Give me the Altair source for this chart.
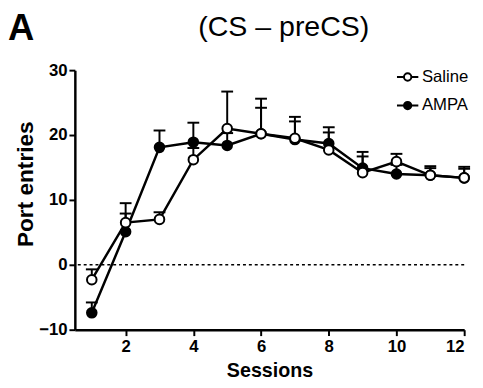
import altair as alt
import pandas as pd

# ---- data ----
sessions = [1, 2, 3, 4, 5, 6, 7, 8, 9, 10, 11, 12]
groups = ["Saline", "AMPA"]
saline_mean = [-2.3, 6.5, 7.0, 16.2, 21.0, 20.2, 19.5, 17.7, 14.2, 15.9, 13.8, 13.4]
saline_upper = [-0.7, 7.9, 8.1, 18.0, 26.7, 25.6, 22.8, 21.2, 17.4, 17.1, 15.2, 15.1]
ampa_mean = [-7.4, 5.1, 18.1, 18.9, 18.4, 20.2, 19.3, 18.7, 14.9, 14.0, 13.8, 13.4]
ampa_upper = [-5.8, 9.5, 20.7, 21.9, 20.3, 24.2, 22.1, 20.4, 16.7, 15.4, 14.9, 14.8]

x_ticks = [2, 4, 6, 8, 10, 12]
y_ticks = [-10, 0, 10, 20, 30]
panel_label = ["A"]
title_text = ["(CS \u2013 preCS)"]
x_title = "Sessions"
y_title = "Port entries"

rows = []
for g, means, uppers in [("AMPA", ampa_mean, ampa_upper), ("Saline", saline_mean, saline_upper)]:
    for s, m, u in zip(sessions, means, uppers):
        rows.append({"session": s, "group": g, "mean": m, "upper": u})
df = pd.DataFrame(rows)

FONT = "Liberation Sans"

x = alt.X(
    "session:Q",
    scale=alt.Scale(domain=[0.5, 12], nice=False, zero=False),
    axis=alt.Axis(values=x_ticks, title=x_title, titleBaseline="alphabetic", titleY=48),
)
y = alt.Y(
    "mean:Q",
    scale=alt.Scale(domain=[-10, 30], nice=False, zero=False),
    axis=alt.Axis(values=y_ticks, title=y_title, titleAngle=-90, titleBaseline="alphabetic",
                  titleX=-43, titleY=115.5, titleAlign="center", titleFontSize=23),
)

base = alt.Chart(df)

zero = alt.Chart(pd.DataFrame({"z": [0]})).mark_rule(
    color="black", strokeWidth=1.5, strokeDash=[3, 3]
).encode(y=alt.Y("z:Q"))

err = base.mark_rule(color="black", strokeWidth=2).encode(x=x, y=y, y2="upper:Q")
caps = base.mark_tick(orient="horizontal", size=12, thickness=2, color="black", opacity=1).encode(
    x=x, y=alt.Y("upper:Q")
)
lines = base.mark_line(color="black", strokeWidth=2.5).encode(x=x, y=y, detail="group:N")

legend_path = "M-2.9,0L-1,0M1,0L2.9,0M1,0A1,1,0,1,1,-1,0A1,1,0,1,1,1,0Z"
points = base.mark_point(shape="circle", filled=True, size=95, stroke="black", strokeWidth=2, opacity=1).encode(
    x=x,
    y=y,
    fill=alt.Fill(
        "group:N",
        scale=alt.Scale(domain=groups, range=["white", "black"]),
        legend=alt.Legend(
            title=None, orient="none", legendX=330, legendY=-1.5,
            symbolType=legend_path, symbolSize=56, symbolStrokeColor="black",
            symbolStrokeWidth=2, labelFont=FONT, labelFontSize=17, labelColor="black",
            labelOffset=6, rowPadding=11, padding=0, symbolOpacity=1,
        ),
    ),
)

label_a = alt.Chart(pd.DataFrame({"t": panel_label})).mark_text(
    font=FONT, fontSize=37, fontWeight="bold", align="left", baseline="alphabetic", color="black"
).encode(text="t:N", x=alt.value(-68), y=alt.value(-31))

title = alt.Chart(pd.DataFrame({"t": title_text})).mark_text(
    font=FONT, fontSize=29, align="center", baseline="alphabetic", color="black"
).encode(text="t:N", x=alt.value(212.5), y=alt.value(-35))

chart = alt.layer(zero, err, caps, lines, points, label_a, title).properties(
    width=396, height=264,
    autosize=alt.AutoSizeParams(type="none"),
    padding={"left": 68, "top": 60, "right": 11, "bottom": 51},
).configure_view(stroke=None).configure_axis(
    grid=False, domainColor="black", domainWidth=2.5, tickColor="black", tickWidth=2, tickSize=6,
    labelFont=FONT, labelFontSize=17, labelFontWeight="bold", labelColor="black", labelPadding=2,
    titleFont=FONT, titleFontSize=20, titleFontWeight="bold", titleColor="black",
).configure_axisX(labelPadding=3)

chart.save("out.html", embed_options={"renderer": "svg", "actions": False})
